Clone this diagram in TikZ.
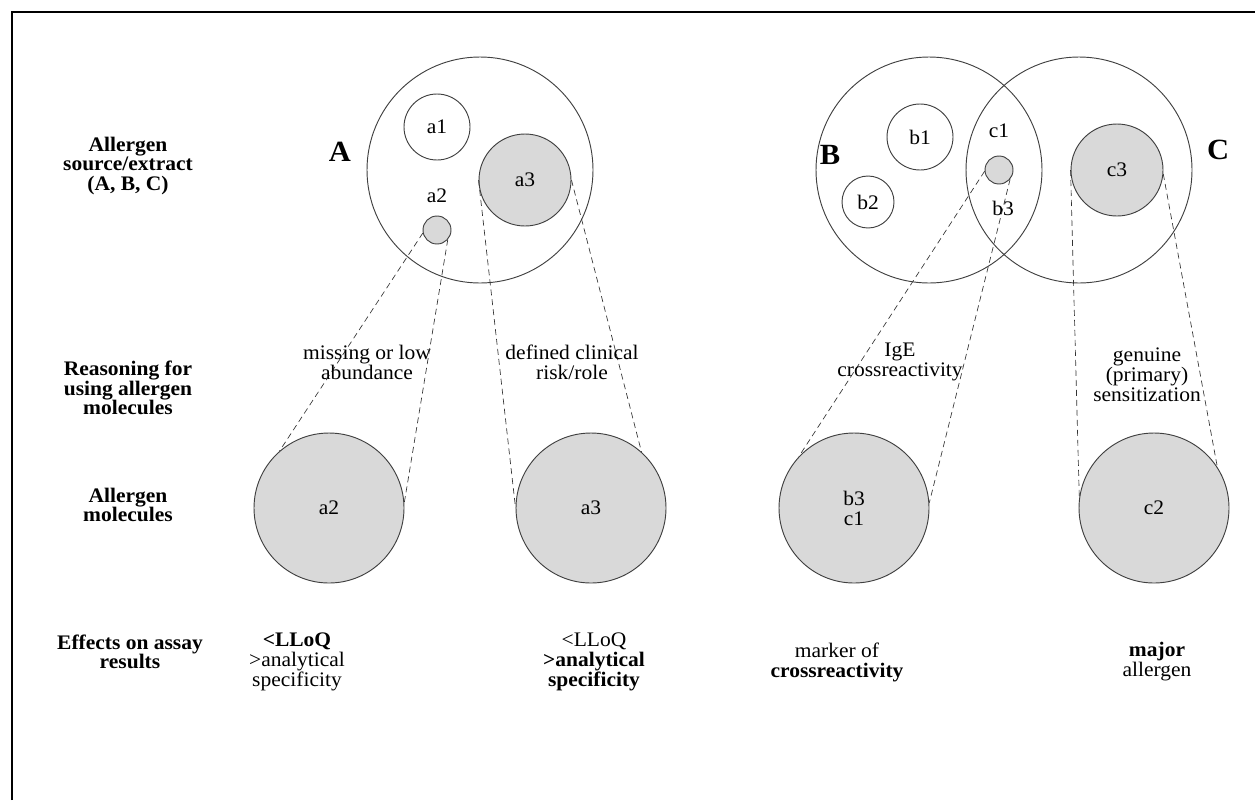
\documentclass[tikz,border=0pt]{standalone}
\usepackage{fontspec}
\setmainfont{Liberation Serif}[FakeStretch=1.04]
\begin{document}
\begin{tikzpicture}[x=0.75pt,y=-0.75pt,
  every node/.style={font=\fontsize{15.5}{15}\selectfont},
  ring/.style={circle,draw=black!75,line width=0.7pt,inner sep=0pt},
  bigring/.style={ring,minimum size=169.5pt},
  midring/.style={ring,minimum size=49.5pt},
  smallring/.style={ring,minimum size=39pt},
  grey/.style={ring,fill=black!15},
  tinygrey/.style={grey,minimum size=21pt},
  midgrey/.style={grey,minimum size=69pt},
  molec/.style={grey,minimum size=112.5pt,align=center},
  dashln/.style={draw=black!80,line width=0.5pt,dash pattern=on 4.5pt off 3pt},
  rowlab/.style={align=center,font=\fontsize{15.5}{14.6}\selectfont\bfseries},
  txt/.style={align=center,font=\fontsize{15.5}{15}\selectfont},
  head/.style={font=\fontsize{22}{24}\selectfont\bfseries}]
\useasboundingbox (0,0) rectangle (1255,800);
\draw[line width=1.2pt] (12,800) -- (12,12) -- (1255,12);

% row labels
\node[rowlab] (r1) at (128,166) {Allergen\\source/extract\\(A, B, C)};
\node[rowlab] (r2) at (128,388) {Reasoning for\\using allergen\\molecules};
\node[rowlab] (r3) at (128,505) {Allergen\\molecules};
\node[rowlab] (r4) at (130,652) {Effects on assay\\results};

% sources
\node[bigring] (A) at (480,170) {};
\node[bigring] (B) at (929,170) {};
\node[bigring] (C) at (1079,170) {};
\node[head] (hA) at (340,152) {A};
\node[head] (hB) at (830,155) {B};
\node[head] (hC) at (1218,150) {C};

\node[midring] (a1) at (437,127) {a1};
\node[midgrey] (a3) at (525,180) {a3};
\node (a2t) at (437,196) {a2};
\node[tinygrey] (a2) at (437,230) {};

\node[midring] (b1) at (920,137) {b1};
\node[smallring] (b2) at (868,202) {b2};
\node (c1t) at (999,131) {c1};
\node[tinygrey] (bc) at (999,170) {};
\node (b3t) at (1003,208) {b3};
\node[midgrey] (c3) at (1117,170) {c3};

% molecules
\node[molec] (A2) at (329,508) {a2};
\node[molec] (A3) at (591,508) {a3};
\node[molec] (BC) at (854,508) {b3\\c1};
\node[molec] (C2) at (1154,508) {c2};

% connectors
\draw[dashln] (a2.192) -- (A2.131);
\draw[dashln] (a2.-42) -- (A2.4);
\draw[dashln] (a3.180) -- (A3.180);
\draw[dashln] (a3.0) -- (A3.48);
\draw[dashln] (bc.185) -- (BC.137);
\draw[dashln] (bc.-40) -- (BC.4);
\draw[dashln] (c3.180) -- (C2.172);
\draw[dashln] (c3.-5) -- (C2.33);

% reasoning
\node[txt] (m1) at (367,362) {missing or low\\abundance};
\node[txt] (m2) at (572,362) {defined clinical\\risk/role};
\node[txt] (m3) at (900,362) {IgE\\crossreactivity};
\node[txt] (m4) at (1147,375) {genuine\\(primary)\\sensitization};

% effects
\node[txt] (e1) at (297,662) {\textbf{<LLoQ}\\>analytical\\specificity};
\node[txt] (e2) at (594,662) {<LLoQ\\\textbf{>analytical}\\\textbf{specificity}};
\node[txt] (e3) at (837,662) {marker of\\\textbf{crossreactivity}};
\node[txt] (e4) at (1157,662) {\textbf{major}\\allergen};
\end{tikzpicture}
\end{document}
